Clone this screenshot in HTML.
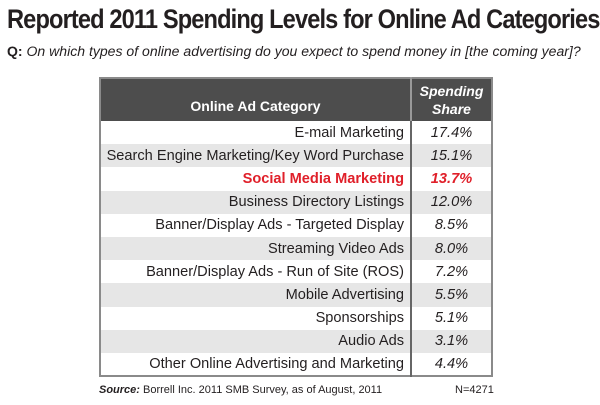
<!DOCTYPE html>
<html><head><style>
body{margin:0;width:600px;height:405px;background:#fff;font-family:"Liberation Sans",sans-serif;color:#231f20;position:relative;overflow:hidden}
.t{position:absolute;left:7px;top:4px;font-size:27px;font-weight:bold;letter-spacing:-1px;transform:scaleX(0.875);transform-origin:left;white-space:nowrap}
.q{position:absolute;left:7px;top:44px;font-size:13.5px;white-space:nowrap;transform:scaleX(1.04);transform-origin:left}
table{position:absolute;left:99px;top:77px;width:394px;border-collapse:collapse;border:2px solid #8a8a8a;table-layout:fixed}
th{background:#4d4d4d;color:#fff;font-size:14px;height:43px;padding:0;line-height:18px;box-sizing:border-box}
td{height:23.2px;padding:0;font-size:14.6px;line-height:16px;box-sizing:border-box}
td.c{text-align:right;padding-right:6px;border-right:2px solid #666;white-space:nowrap}
td.v{text-align:center;font-style:italic}
th.c{border-right:2px solid #999;padding-top:12px}
tr:nth-child(odd) td{background:#e6e6e6}
.r td{color:#e0202a;font-weight:bold}
.s{position:absolute;top:384px;font-size:11px}
</style></head><body>
<div class="t">Reported 2011 Spending Levels for Online Ad Categories</div>
<div class="q"><b>Q:</b> <i>On which types of online advertising do you expect to spend money in [the coming year]?</i></div>
<table>
<colgroup><col style="width:311px"><col></colgroup>
<tr style="height:43px"><th class="c">Online Ad Category</th><th style="font-style:italic">Spending<br>Share</th></tr>
<tr><td class="c">E-mail Marketing</td><td class="v">17.4%</td></tr>
<tr><td class="c">Search Engine Marketing/Key Word Purchase</td><td class="v">15.1%</td></tr>
<tr class="r"><td class="c">Social Media Marketing</td><td class="v">13.7%</td></tr>
<tr><td class="c">Business Directory Listings</td><td class="v">12.0%</td></tr>
<tr><td class="c">Banner/Display Ads - Targeted Display</td><td class="v">8.5%</td></tr>
<tr><td class="c">Streaming Video Ads</td><td class="v">8.0%</td></tr>
<tr><td class="c">Banner/Display Ads - Run of Site (ROS)</td><td class="v">7.2%</td></tr>
<tr><td class="c">Mobile Advertising</td><td class="v">5.5%</td></tr>
<tr><td class="c">Sponsorships</td><td class="v">5.1%</td></tr>
<tr><td class="c">Audio Ads</td><td class="v">3.1%</td></tr>
<tr><td class="c">Other Online Advertising and Marketing</td><td class="v">4.4%</td></tr>
</table>
<div class="s" style="left:99px"><b><i>Source:</i></b> Borrell Inc. 2011 SMB Survey, as of August, 2011</div>
<div class="s" style="left:455px">N=4271</div>
</body></html>
